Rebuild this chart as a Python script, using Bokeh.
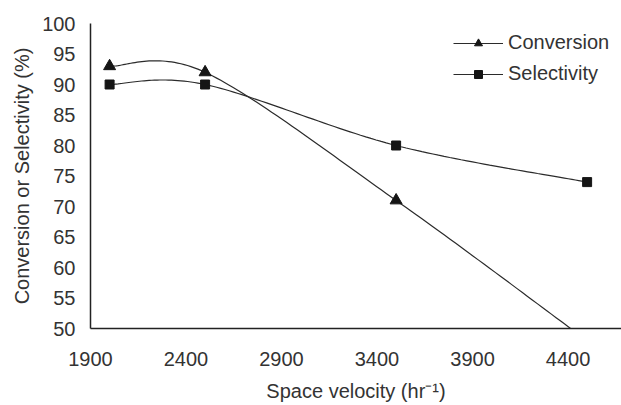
import numpy as np
from bokeh.plotting import figure
from bokeh.models import Range1d, FixedTicker, Legend, LegendItem
from bokeh.embed import file_html
from bokeh.resources import INLINE

# ---- data ----
space_velocity = [2000, 2500, 3500, 4500]
conversion = [93, 92, 71, 48]
selectivity = [90, 90, 80, 74]
x_ticks = [1900, 2400, 2900, 3400, 3900, 4400]
y_ticks = [50, 55, 60, 65, 70, 75, 80, 85, 90, 95, 100]


def smooth(xs, ys, n=40):
    """Excel-style smoothed line (cubic Bezier through the data points)."""
    P = np.column_stack([xs, ys]).astype(float)
    m = len(P)
    parts = []
    for i in range(m - 1):
        p0, p1 = P[i], P[i + 1]
        pm = P[i - 1] if i > 0 else P[i]
        pp = P[i + 2] if i + 2 < m else P[i + 1]
        c1 = p0 + (p1 - pm) / 6.0
        c2 = p1 - (pp - p0) / 6.0
        t = np.linspace(0, 1, n)[:, None]
        B = (1 - t) ** 3 * p0 + 3 * (1 - t) ** 2 * t * c1 + 3 * (1 - t) * t ** 2 * c2 + t ** 3 * p1
        parts.append(B if i == 0 else B[1:])
    B = np.vstack(parts)
    return B[:, 0], B[:, 1]


FONT = "Liberation Sans"
TXT = "#333333"
LINE = "#2b2b2b"
MARK = "#151515"

p = figure(width=621, height=405,
           x_range=Range1d(1900, 4680), y_range=Range1d(50, 100),
           output_backend="svg", toolbar_location=None,
           min_border_left=90, min_border_right=0,
           min_border_top=23, min_border_bottom=77)
p.outline_line_color = None
p.xgrid.visible = False
p.ygrid.visible = False
p.background_fill_color = "white"
p.border_fill_color = "white"

cx, cy = smooth(space_velocity, conversion)
sx, sy = smooth(space_velocity, selectivity)

lc = p.line(cx, cy, line_color=LINE, line_width=1.2)
sc = p.scatter(space_velocity, conversion, marker="triangle", size=12,
               fill_color=MARK, line_color=MARK)
ls = p.line(sx, sy, line_color=LINE, line_width=1.2)
ss = p.scatter(space_velocity, selectivity, marker="square", size=9,
               fill_color=MARK, line_color=MARK)

for ax in (p.xaxis[0], p.yaxis[0]):
    ax.axis_line_color = "#222222"
    ax.axis_line_width = 1.5
    ax.major_tick_out = 0
    ax.major_tick_in = 0
    ax.minor_tick_out = 0
    ax.minor_tick_in = 0
    ax.major_label_text_font = FONT
    ax.major_label_text_font_size = "20px"
    ax.major_label_text_color = TXT
    ax.axis_label_text_font = FONT
    ax.axis_label_text_font_size = "20px"
    ax.axis_label_text_font_style = "normal"
    ax.axis_label_text_color = TXT

p.xaxis[0].ticker = FixedTicker(ticks=x_ticks)
p.yaxis[0].ticker = FixedTicker(ticks=y_ticks)
p.xaxis[0].major_label_standoff = 23
p.yaxis[0].major_label_standoff = 15
p.xaxis[0].axis_label = "Space velocity (hr\u207b\u00b9)"
p.yaxis[0].axis_label = "Conversion or Selectivity (%)"
p.xaxis[0].axis_label_standoff = 11
p.yaxis[0].axis_label_standoff = 6

legend = Legend(items=[LegendItem(label="Conversion", renderers=[lc, sc]),
                       LegendItem(label="Selectivity", renderers=[ls, ss])],
                location=(363, 243), padding=0, margin=0, spacing=8,
                glyph_width=50, glyph_height=20, label_height=20,
                label_standoff=5, label_text_font=FONT,
                label_text_font_size="20px", label_text_color=TXT,
                border_line_color=None, background_fill_alpha=0)
p.add_layout(legend)

open("out.html", "w").write(file_html(p, INLINE))
